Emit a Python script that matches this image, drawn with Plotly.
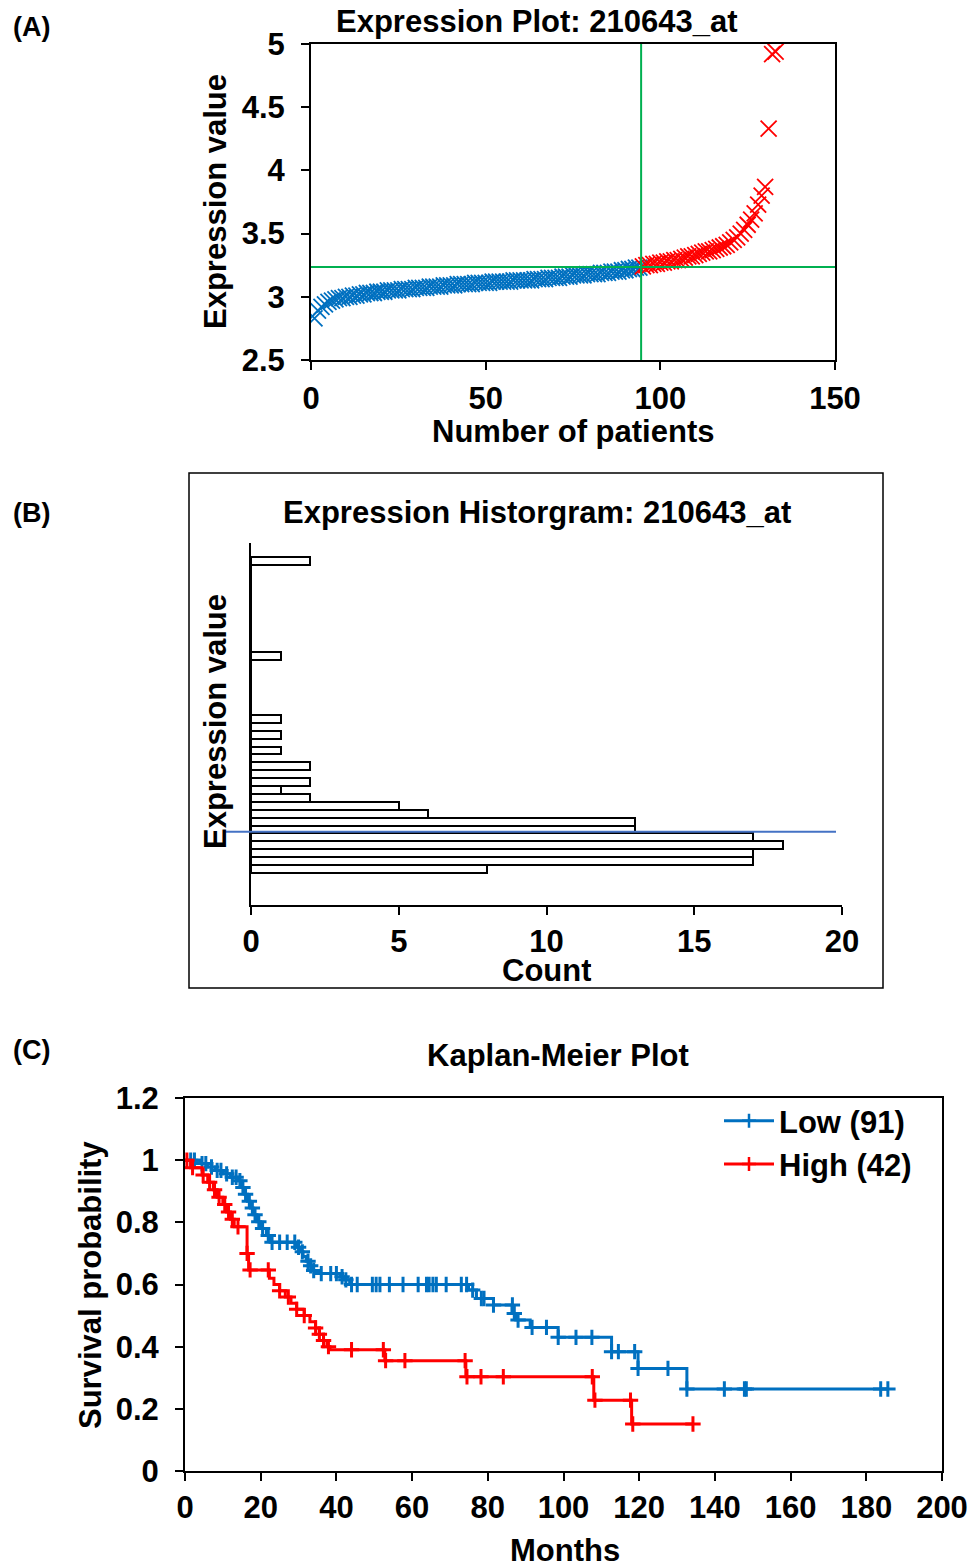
import plotly.graph_objects as go

W, H = 972, 1566

# ---------------- Panel A: expression plot ----------------
patients_low = list(range(1, 95))
expr_low = [2.83, 2.89, 2.92, 2.94, 2.96, 2.97, 2.98, 2.99, 2.99, 3.00,
            3.00, 3.01, 3.01, 3.02, 3.02, 3.03, 3.03, 3.03, 3.04, 3.04,
            3.04, 3.05, 3.05, 3.05, 3.05, 3.06, 3.06, 3.06, 3.06, 3.07,
            3.07, 3.07, 3.07, 3.08, 3.08, 3.08, 3.08, 3.09, 3.09, 3.09,
            3.09, 3.10, 3.10, 3.10, 3.10, 3.10, 3.11, 3.11, 3.11, 3.11,
            3.11, 3.12, 3.12, 3.12, 3.12, 3.12, 3.12, 3.13, 3.13, 3.13,
            3.13, 3.13, 3.13, 3.14, 3.14, 3.14, 3.14, 3.15, 3.15, 3.15,
            3.15, 3.16, 3.16, 3.16, 3.17, 3.17, 3.17, 3.17, 3.18, 3.18,
            3.18, 3.18, 3.19, 3.19, 3.19, 3.20, 3.20, 3.20, 3.21, 3.21,
            3.22, 3.22, 3.23, 3.23]
patients_high = list(range(95, 134))
expr_high = [3.24, 3.25, 3.25, 3.26, 3.26, 3.27, 3.27, 3.28, 3.28, 3.29,
             3.29, 3.30, 3.31, 3.32, 3.32, 3.33, 3.34, 3.35, 3.36, 3.36,
             3.37, 3.38, 3.39, 3.40, 3.41, 3.43, 3.45, 3.47, 3.50, 3.53,
             3.57, 3.61, 3.66, 3.73, 3.80, 3.87, 4.33, 4.92, 4.94]
cutoff_patient = 94.5
cutoff_value = 3.235

# ---------------- Panel B: histogram ----------------
hist_bins = [3.00, 3.05, 3.10, 3.15, 3.20, 3.25, 3.30, 3.35, 3.40, 3.45,
             3.50, 3.55, 3.60, 3.65, 3.70, 3.75, 3.80, 3.85, 3.90, 3.95,
             4.00, 4.05, 4.10, 4.15, 4.20, 4.25, 4.30, 4.35, 4.40, 4.45,
             4.50, 4.55, 4.60, 4.65, 4.70, 4.75, 4.80, 4.85, 4.90, 4.95]
hist_counts = [8, 17, 17, 18, 17, 13, 13, 6, 5, 2,
               1, 2, 0, 2, 0, 1, 0, 1, 0, 1,
               0, 0, 0, 0, 0, 0, 0, 1, 0, 0,
               0, 0, 0, 0, 0, 0, 0, 0, 0, 2]

# ---------------- Panel C: Kaplan-Meier ----------------
low_t = [0, 4, 6, 8, 10, 12, 14, 15, 15.8, 16.5, 17.3, 18, 19, 20, 21.5, 22.5,
         29.5, 30.5, 31.2, 32, 32.8, 33.5, 35, 41, 42, 43.5,
         74.9, 77, 81.5, 86.4, 87.4, 91.2, 98.6, 112.7, 119.7, 132.6, 185.7]
low_s = [1.0, 0.989, 0.978, 0.967, 0.956, 0.945, 0.934, 0.912, 0.89, 0.868, 0.846, 0.824, 0.802, 0.780, 0.758, 0.736,
         0.72, 0.705, 0.69, 0.675, 0.66, 0.645, 0.635, 0.625, 0.615, 0.60,
         0.582, 0.555, 0.534, 0.507, 0.486, 0.462, 0.43, 0.384, 0.33, 0.264, 0.264]
low_cens_t = [1.5, 2.5, 4.5, 5.5, 7, 8.5, 9.5, 11, 12.5, 13.5, 14.5, 15.3, 16, 17, 17.8, 18.5,
              19.5, 20.5, 22, 23, 25, 27, 29, 30, 31, 32.5, 33.2, 34, 36, 38.5, 40, 41.5,
              42.5, 44, 45.5, 49.5, 50.5, 51.5, 54, 57.6, 61.6, 63.8, 64.5, 65.5, 66.4, 69,
              73, 74.4, 76, 78.3, 79, 81.5, 86.5, 87, 88, 91.7, 95.5, 98.6, 103.3, 107.5,
              112.7, 114.5, 118.8, 119.7, 127.6, 132.6, 142.5, 147.8, 148.3, 183.8, 185.7]
low_cens_s = [1.0, 1.0, 0.989, 0.989, 0.978, 0.967, 0.967, 0.956, 0.945, 0.945, 0.934, 0.912, 0.89, 0.868, 0.846, 0.824,
              0.802, 0.78, 0.758, 0.736, 0.736, 0.736, 0.736, 0.72, 0.705, 0.675, 0.66, 0.645, 0.635, 0.635, 0.635, 0.625,
              0.615, 0.60, 0.60, 0.60, 0.60, 0.60, 0.60, 0.60, 0.60, 0.60, 0.60, 0.60, 0.60, 0.60,
              0.60, 0.60, 0.582, 0.555, 0.555, 0.534, 0.534, 0.507, 0.486, 0.462, 0.462, 0.43, 0.43, 0.43,
              0.384, 0.384, 0.384, 0.33, 0.33, 0.264, 0.264, 0.264, 0.264, 0.264, 0.264]

high_t = [0, 1.5, 4.5, 6, 7.5, 8.5, 10, 11, 12, 13, 16.4, 16.8, 22.3, 23.5, 25, 26.5, 28,
          29.5, 31.5, 33, 34.5, 35.5, 36.6, 37.5, 38.3, 52.8, 74.2, 108, 118, 134.2]
high_s = [1.0, 0.976, 0.952, 0.929, 0.905, 0.881, 0.857, 0.833, 0.81, 0.786, 0.70, 0.647, 0.62, 0.60, 0.58, 0.56, 0.54,
          0.52, 0.50, 0.48, 0.46, 0.44, 0.42, 0.40, 0.39, 0.355, 0.303, 0.228, 0.151, 0.151]
high_cens_t = [0.5, 2, 4.8, 6.5, 7.8, 9, 10.5, 11.5, 12.5, 14, 16.4, 17.2, 22, 25, 27.3, 29.5, 31.5,
               34.5, 35.5, 36.6, 37.9, 44, 52.4, 53, 58.1, 74, 74.5, 78.2, 84.1, 107.6, 108.3,
               117.7, 118.3, 134.2]
high_cens_s = [1.0, 0.976, 0.952, 0.929, 0.905, 0.881, 0.857, 0.833, 0.81, 0.786, 0.70, 0.647, 0.647, 0.58, 0.56, 0.52, 0.50,
               0.46, 0.44, 0.42, 0.40, 0.39, 0.39, 0.355, 0.355, 0.355, 0.303, 0.303, 0.303, 0.303, 0.228,
               0.228, 0.151, 0.151]
legend_labels = ["Low (91)", "High (42)"]

BLUE = "#0070C0"
RED = "#FF0000"
GREEN = "#00B050"
FAM = "Liberation Sans, Arial, sans-serif"
FS = 31


def F(size=FS, color="black"):
    return dict(family=FAM, size=size, color=color, weight="bold")


def px_x(p):
    return p / W


def px_y(p):
    return 1 - p / H


fig = go.Figure()

# Panel A traces
fig.add_trace(go.Scatter(x=patients_low, y=expr_low, mode="markers", xaxis="x", yaxis="y",
                         marker=dict(symbol="x-thin", size=16, color=BLUE, line=dict(color=BLUE, width=1.8)),
                         showlegend=False, hoverinfo="skip"))
fig.add_trace(go.Scatter(x=patients_high, y=expr_high, mode="markers", xaxis="x", yaxis="y",
                         marker=dict(symbol="x-thin", size=16, color=RED, line=dict(color=RED, width=1.8)),
                         showlegend=False, hoverinfo="skip"))

# Panel B histogram
fig.add_trace(go.Bar(x=hist_counts, y=hist_bins, orientation="h", xaxis="x2", yaxis="y2",
                     marker=dict(color="white", line=dict(color="black", width=2)),
                     width=0.05, showlegend=False, hoverinfo="skip"))

# Panel C KM
for t, s, ct, cs, col, name in [(low_t, low_s, low_cens_t, low_cens_s, BLUE, legend_labels[0]),
                                 (high_t, high_s, high_cens_t, high_cens_s, RED, legend_labels[1])]:
    fig.add_trace(go.Scatter(x=t, y=s, mode="lines", line=dict(color=col, width=3, shape="hv"),
                             xaxis="x3", yaxis="y3", showlegend=False, hoverinfo="skip"))
    fig.add_trace(go.Scatter(x=ct, y=cs, mode="markers", xaxis="x3", yaxis="y3",
                             marker=dict(symbol="cross-thin", size=11, color=col, line=dict(color=col, width=3)),
                             showlegend=False, hoverinfo="skip"))
    fig.add_trace(go.Scatter(x=[None], y=[None], mode="lines+markers", name=name, xaxis="x3", yaxis="y3",
                             line=dict(color=col, width=3),
                             marker=dict(symbol="cross-thin", size=10, color=col, line=dict(color=col, width=2.5)),
                             showlegend=True))

axis_common = dict(showgrid=False, zeroline=False, showline=True, linecolor="black", linewidth=2,
                   ticks="outside", ticklen=8, tickwidth=2, tickcolor="black", tickfont=F(),
                   automargin=False)

fig.update_layout(
    width=W, height=H, autosize=False,
    margin=dict(l=0, r=0, t=0, b=0, pad=0, autoexpand=False),
    paper_bgcolor="white", plot_bgcolor="white",
    font=F(),
    bargap=0,
    xaxis=dict(domain=[px_x(311), px_x(835)], range=[0, 150], dtick=50, mirror=True, anchor="y",
               ticklabelstandoff=2, **axis_common),
    yaxis=dict(domain=[px_y(360), px_y(44)], range=[2.5, 5], dtick=0.5, mirror=True, anchor="x",
               ticklabelstandoff=10, **axis_common),
    xaxis2=dict(domain=[px_x(251), px_x(842)], range=[0, 20], dtick=5, anchor="y2",
                ticklabelstandoff=0, **axis_common),
    yaxis2=dict(domain=[px_y(905), px_y(543)], range=[2.772, 5.063], anchor="x2",
                showgrid=False, zeroline=False, showline=True, linecolor="black", linewidth=2,
                ticks="", showticklabels=False, automargin=False),
    xaxis3=dict(domain=[px_x(185), px_x(942)], range=[0, 200], dtick=20, mirror=True, anchor="y3",
                ticklabelstandoff=0, **axis_common),
    yaxis3=dict(domain=[px_y(1471), px_y(1098)], range=[0, 1.2], dtick=0.2, mirror=True, anchor="x3",
                ticklabelstandoff=10, **axis_common),
    legend=dict(x=px_x(719), y=px_y(1094), xanchor="left", yanchor="top", font=F(),
                bgcolor="rgba(0,0,0,0)", itemwidth=50, tracegroupgap=0),
)

# reference lines and frames
fig.add_shape(type="line", xref="x", yref="y domain", x0=cutoff_patient, x1=cutoff_patient, y0=0, y1=1,
              line=dict(color=GREEN, width=2), layer="above")
fig.add_shape(type="line", xref="x domain", yref="y", x0=0, x1=1, y0=cutoff_value, y1=cutoff_value,
              line=dict(color=GREEN, width=2), layer="above")
fig.add_shape(type="line", xref="paper", yref="y2", x0=px_x(225), x1=px_x(836), y0=cutoff_value, y1=cutoff_value,
              line=dict(color="#4472C4", width=2), layer="above")
fig.add_shape(type="rect", xref="paper", yref="paper", x0=px_x(189), x1=px_x(883), y0=px_y(988), y1=px_y(473),
              line=dict(color="black", width=1.5), fillcolor="rgba(0,0,0,0)")

texts = [
    ("(A)", 31, 27, 0, 27, None), ("(B)", 31, 513, 0, 27, None), ("(C)", 31, 1050, 0, 27, None),
    ("Expression Plot: 210643_at", 536, 22, 0, FS, None),
    ("Expression value", 215, 202, -90, FS, None),
    ("Number of patients", 573, 431, 0, FS, None),
    ("Expression Historgram: 210643_at", 537, 512, 0, FS, None),
    ("Expression value", 215, 722, -90, FS, None),
    ("Count", 547, 970, 0, FS, 26),
    ("Kaplan-Meier Plot", 558, 1055, 0, FS, None),
    ("Survival probability", 90, 1285, -90, FS, None),
    ("Months", 565, 1550, 0, FS, 32),
]
for txt, x, y, ang, sz, hgt in texts:
    fig.add_annotation(text=txt, xref="paper", yref="paper", x=px_x(x), y=px_y(y),
                       xanchor="center", yanchor="middle", showarrow=False, textangle=ang,
                       font=F(sz), height=hgt)

fig.write_html("out.html")
